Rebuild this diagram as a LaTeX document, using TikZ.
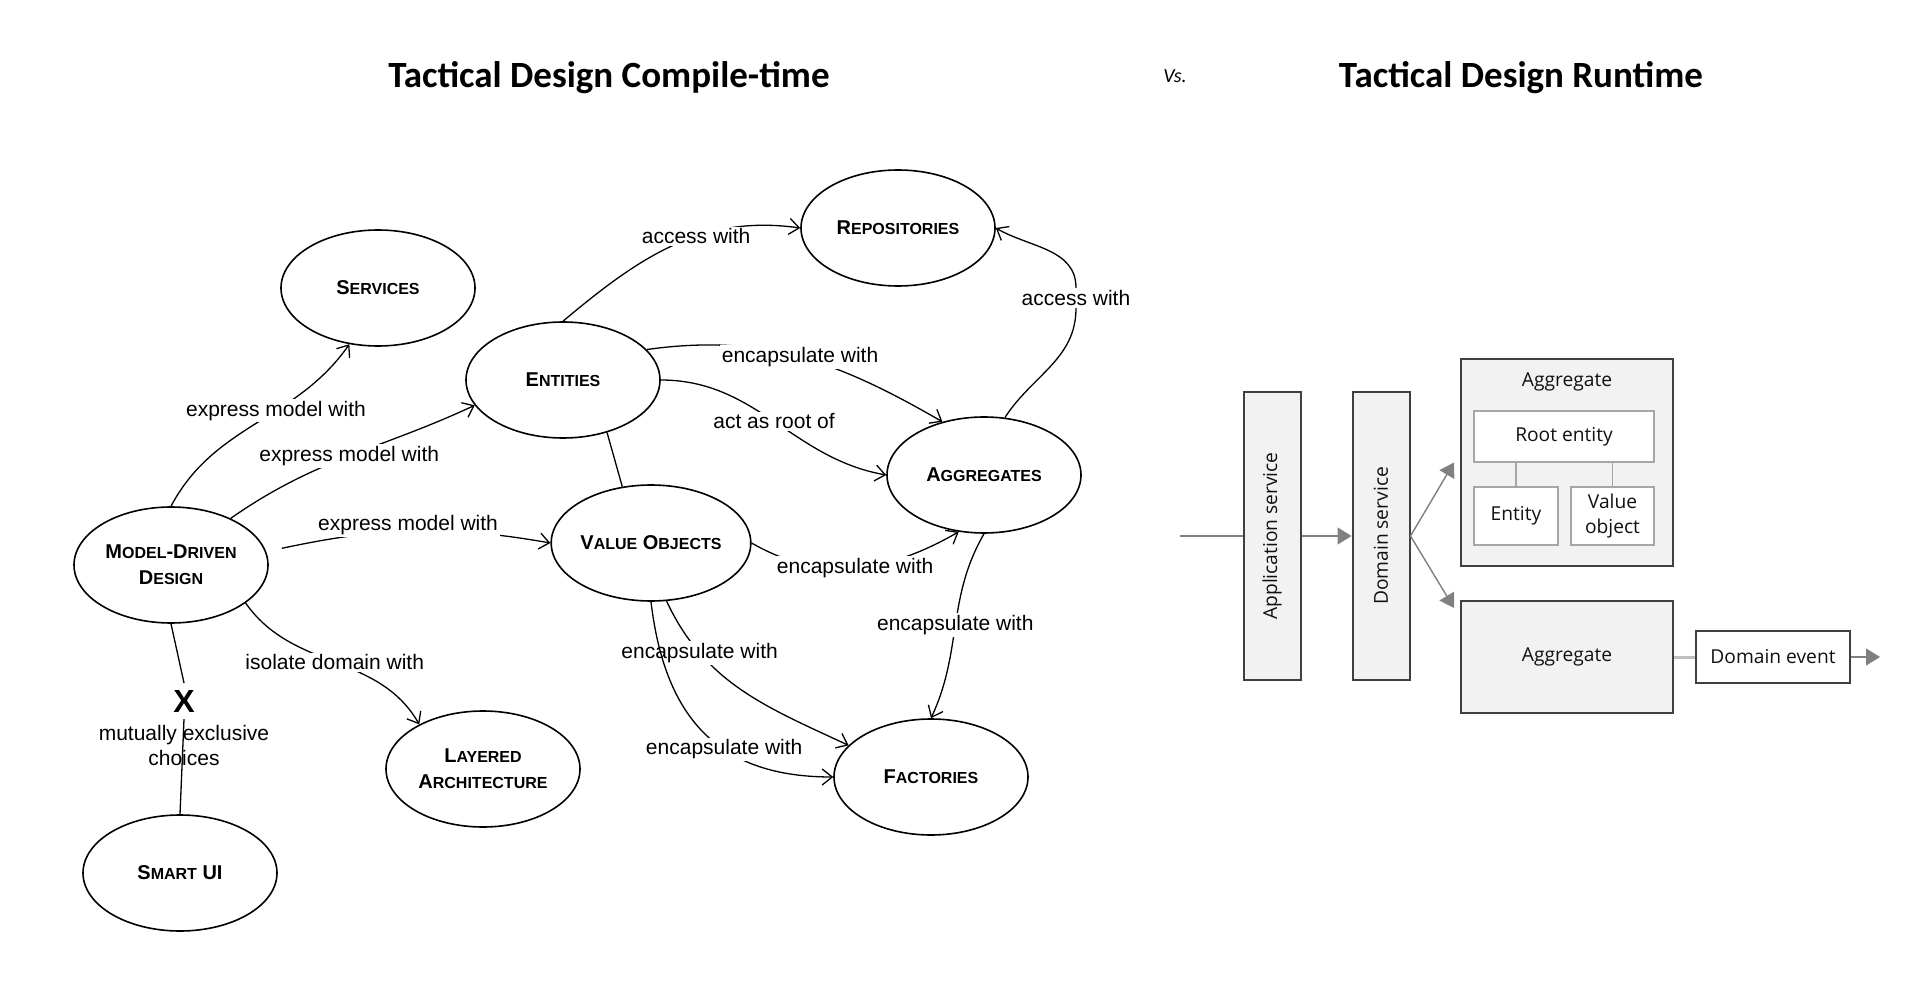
\documentclass[tikz,border=0pt]{standalone}
\usepackage{fontspec}
\setmainfont{Liberation Sans}
\newfontfamily\headfont{Carlito}
\newfontfamily\boxfont{Open Sans}
\usetikzlibrary{shapes.geometric, arrows.meta}

\definecolor{boxfill}{HTML}{F2F2F2}
\definecolor{boxline}{HTML}{404040}
\definecolor{innerline}{HTML}{A6A6A6}
\definecolor{flowgray}{HTML}{808080}
\definecolor{linkgray}{HTML}{BFBFBF}
\definecolor{runtext}{HTML}{111111}

% lower part of the small capitals
\newcommand{\lo}[1]{{\fontsize{8pt}{10pt}\selectfont #1}}

\begin{document}
\begin{tikzpicture}[x=0.5pt, y=-0.5pt,
    concept/.style={draw, ellipse, line width=0.8pt, inner sep=0pt,
      minimum width=97pt, minimum height=58pt, align=center,
      font=\fontsize{10pt}{13pt}\selectfont\bfseries},
    rel/.style={line width=0.65pt},
    relarrow/.style={rel, -{Straight Barb[length=5pt,width=8pt]}},
    rellabel/.style={fill=white, inner sep=1pt,
      font=\fontsize{10.5pt}{12.5pt}\selectfont},
    runfont/.style={text=runtext,
      font=\boxfont\fontsize{9.6pt}{12.5pt}\selectfont},
    outerbox/.style={runfont, draw=boxline, fill=boxfill,
      line width=1pt, inner sep=0pt},
    innerbox/.style={runfont, draw=innerline, fill=white,
      line width=0.8pt, inner sep=0pt, align=center},
    flow/.style={flowgray, line width=0.7pt},
    flowarrow/.style={flow, -{Triangle[length=7pt,width=8.5pt]}}]
  % page
  \fill[white] (0,0) rectangle (1929,1000);
  % headings
  \node[font=\headfont\bfseries\fontsize{18.5pt}{22pt}\selectfont]
    (headct) at (609,78) {Tactical Design Compile-time};
  \node[font=\headfont\itshape\fontsize{10pt}{12pt}\selectfont]
    (vs) at (1175,76) {Vs.};
  \node[font=\headfont\bfseries\fontsize{18.5pt}{22pt}\selectfont]
    (headrt) at (1521,78) {Tactical Design Runtime};

  % compile-time: the building blocks
  \foreach \n/\x/\y/\t in {srv/378/288/{S\lo{ERVICES}},
      ent/563/380/{E\lo{NTITIES}}, rep/898/228/{R\lo{EPOSITORIES}},
      mdd/171/565/{M\lo{ODEL}-D\lo{RIVEN}\\D\lo{ESIGN}},
      vo/651/543/{V\lo{ALUE} O\lo{BJECTS}}, agg/984/475/{A\lo{GGREGATES}},
      lay/483/769/{L\lo{AYERED}\\A\lo{RCHITECTURE}},
      fac/931/777/{F\lo{ACTORIES}}, sui/180/873/{S\lo{MART} UI}}
    \node[concept] (\n) at (\x,\y) {\t};

  % model-driven design
  \draw[relarrow] (mdd.north) to[out=62,in=235]
    node[rellabel, pos=0.6] {express model with} (srv.243);
  \draw[relarrow] (mdd.38) to[out=35,in=205]
    node[rellabel, pos=0.5] {express model with} (ent.196);
  \draw[relarrow, shorten <=8pt] (mdd.8) to[out=12,in=170]
    node[rellabel, pos=0.5, yshift=3pt] {express model with} (vo.west);
  \draw[relarrow] (mdd.333) to[out=-55,in=120]
    node[rellabel, pos=0.5] {isolate domain with} (lay.145);
  % the exclusive choice
  \node[font=\fontsize{16pt}{16pt}\selectfont\bfseries] (xmk) at (184,701) {X};
  \draw[rel] (mdd.south) -- (xmk.north);
  \draw[rel] (xmk.south) -- (sui.north);
  \node[align=center, inner sep=0pt, font=\fontsize{10.5pt}{12.5pt}\selectfont]
    (mex) at (184,745) {mutually exclusive\\choices};

  % entities and value objects
  \draw[relarrow] (ent.north) to[out=40,in=172]
    node[rellabel, pos=0.6] {access with} (rep.west);
  \draw[relarrow] (ent.20) to[out=8,in=150]
    node[rellabel, pos=0.5] {encapsulate with} (agg.128);
  \draw[relarrow] (ent.east) to[out=0,in=170]
    node[rellabel, pos=0.5] {act as root of} (agg.west);
  \draw[rel] (ent.310) -- (vo.117);
  \draw[relarrow] (vo.east) to[out=-30,in=210]
    node[rellabel, pos=0.5] {encapsulate with} (agg.246);
  \draw[relarrow] (vo.-75) to[out=-65,in=155]
    node[rellabel, pos=0.25] {encapsulate with} (fac.159);
  \draw[relarrow] (vo.south) .. controls (665,720) and (720,777) ..
    node[rellabel, pos=0.6] {encapsulate with} (fac.west);

  % aggregates
  \node[rellabel] (aggacc) at (1076,298) {access with};
  \draw[rel] (agg.70) to[out=57,in=-90] (aggacc.south);
  \draw[relarrow] (aggacc.north) to[out=90,in=-30] (rep.east);
  \draw[relarrow] (agg.south) to[out=-120,in=65]
    node[rellabel, pos=0.5] {encapsulate with} (fac.north);

  % runtime: services
  \node[outerbox, minimum width=28.5pt, minimum height=144pt]
    (app) at (1272,536) {\rotatebox{90}{Application service}};
  \node[outerbox, minimum width=28.5pt, minimum height=144pt]
    (dsv) at (1381,536) {\rotatebox{90}{Domain service}};
  % runtime: the two aggregates
  \node[outerbox, minimum width=106pt, minimum height=103.5pt]
    (agga) at (1567,462.5) {};
  \node[runfont] (aggat) at (1567,382) {Aggregate};
  \node[innerbox, minimum width=90pt, minimum height=25.5pt]
    (root) at (1564,436.5) {Root entity};
  \node[innerbox, minimum width=42pt, minimum height=29pt]
    (enty) at (1516,516) {Entity};
  \node[innerbox, minimum width=41.5pt, minimum height=29pt]
    (vobj) at (1612.5,516) {Value\\object};
  \foreach \c in {enty, vobj}
    \draw[innerline, line width=0.8pt] (\c.north) -- (\c.north |- root.south);
  \node[outerbox, minimum width=106pt, minimum height=56pt]
    (aggb) at (1567,657) {Aggregate};
  \node[outerbox, fill=white, minimum width=77pt, minimum height=26pt]
    (evt) at (1773,657) {Domain event};

  % runtime: the flow
  \coordinate (flowin) at (1180,536);
  \coordinate (flowout) at (1880,657);
  \draw[flow] (flowin) -- (app.west);
  \draw[flowarrow] (app.east) -- (dsv.west);
  \draw[flowarrow] (dsv.east) -- ([xshift=-3pt]agga.west);
  \draw[flowarrow] (dsv.east) -- ([xshift=-3pt, yshift=-4pt]aggb.north west);
  \draw[linkgray, line width=1.5pt] (aggb.east) -- (evt.west);
  \draw[flowarrow] (evt.east) -- (flowout);
\end{tikzpicture}
\end{document}
